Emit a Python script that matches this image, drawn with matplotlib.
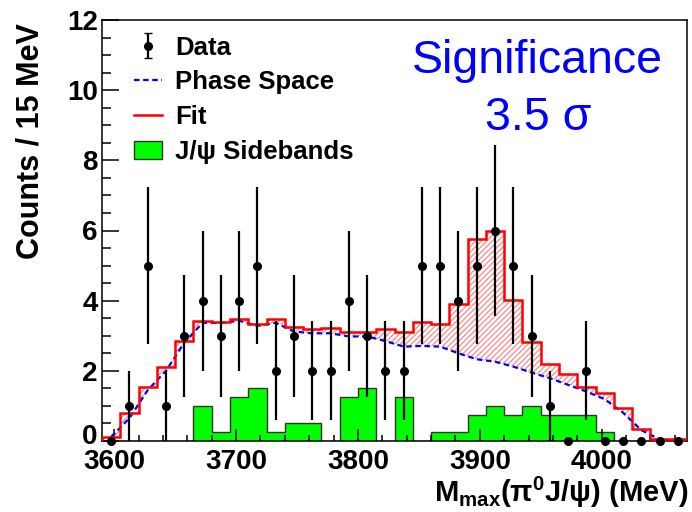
import numpy as np
import matplotlib
matplotlib.use("Agg")
import matplotlib.pyplot as plt
import matplotlib.transforms as mtransforms
from matplotlib.patches import Patch, Polygon
from matplotlib.lines import Line2D
from matplotlib.ticker import MultipleLocator

plt.rcParams['font.family'] = ['Liberation Sans', 'DejaVu Sans']
plt.rcParams['mathtext.fontset'] = 'custom'
plt.rcParams['mathtext.rm'] = 'Liberation Sans:bold'
plt.rcParams['mathtext.it'] = 'Liberation Sans:bold'
plt.rcParams['mathtext.bf'] = 'Liberation Sans:bold'
plt.rcParams['hatch.linewidth'] = 0.9

# ===== Binning: 32 bins of 15 MeV =====
X_LO, X_HI, BIN_W = 3590.0, 4070.0, 15.0
edges = np.arange(X_LO, X_HI + BIN_W / 2, BIN_W)
centers = 0.5 * (edges[:-1] + edges[1:])

# ===== Histogram contents =====
data_counts = [0, 1, 5, 1, 3, 4, 3, 4, 5, 2, 3, 2, 2, 4, 3, 2,
               2, 5, 5, 4, 5, 6, 5, 3, 1, 0, 2, 0, 0, 0, 0, 0]
fit_vals = [0.12, 0.79, 1.55, 2.12, 2.85, 3.42, 3.38, 3.47, 3.33, 3.48, 3.26,
            3.19, 3.23, 3.12, 3.12, 3.19, 3.12, 3.38, 3.34, 3.90, 5.75, 5.99,
            4.02, 2.81, 2.19, 1.91, 1.55, 1.38, 0.93, 0.33, 0.06, 0.06]
phsp_vals = [0.12, 0.65, 1.45, 2.00, 2.80, 3.37, 3.36, 3.43, 3.28, 3.37, 3.12,
             3.07, 3.07, 2.98, 2.98, 2.85, 2.69, 2.71, 2.69, 2.50, 2.33, 2.26,
             2.12, 1.95, 1.79, 1.60, 1.41, 1.19, 0.81, 0.31, 0.05, 0.0]
sideband_vals = [0, 0, 0, 0, 0, 1.0, 0.25, 1.25, 1.5, 0.25, 0.5, 0.5, 0, 1.25,
                 1.5, 0, 1.25, 0, 0.25, 0.25, 0.75, 1.0, 0.75, 1.0, 0.75, 0.75,
                 0.75, 0.25, 0, 0, 0, 0]

counts = np.array(data_counts, dtype=float)
fit = np.array(fit_vals)
phsp = np.array(phsp_vals)
sideband = np.array(sideband_vals)

fig = plt.figure(figsize=(6.92, 5.12), dpi=100)
ax = fig.add_axes([102 / 692, 1 - 441 / 512, 585 / 692, 421 / 512])

# J/psi sidebands (green)
ax.stairs(sideband, edges, fill=True, facecolor='#00ff00', edgecolor='none', zorder=1)
ax.stairs(sideband, edges, fill=False, color='#333333', linewidth=1.0, zorder=1.1)

# hatched region between phase space and fit
step_x = np.repeat(edges, 2)[1:-1]
step_y = np.repeat(fit, 2)
verts = list(zip(step_x, step_y)) + list(zip(centers[::-1], phsp[::-1]))
ax.add_patch(Polygon(verts, closed=True, facecolor='none', edgecolor='#ff8888',
                     linewidth=0, hatch='//////', zorder=1.5))

# phase space and fit
ax.plot(centers, phsp, color='#0000ff', linestyle=(0, (2.5, 1.6)), linewidth=1.6, zorder=2)
ax.stairs(fit, edges, color='#ff0000', linewidth=1.8, zorder=3)

# data with sqrt(N) errors
ax.errorbar(centers, counts, yerr=np.sqrt(counts), fmt='o', color='black',
            markersize=5.5, elinewidth=1.6, capsize=0, zorder=4, clip_on=False)

ax.set_xlim(X_LO, X_HI)
ax.set_ylim(0, 12)
ax.xaxis.set_major_locator(MultipleLocator(100))
ax.xaxis.set_minor_locator(MultipleLocator(20))
ax.yaxis.set_major_locator(MultipleLocator(2))
ax.yaxis.set_minor_locator(MultipleLocator(0.5))
ax.tick_params(axis='x', which='major', direction='in', length=9, width=1.1, pad=6)
ax.tick_params(axis='x', which='minor', direction='in', length=4.5, width=1.1)
ax.tick_params(axis='y', which='major', direction='in', length=12.5, width=1.1, pad=3)
ax.tick_params(axis='y', which='minor', direction='in', length=6.5, width=1.1)
for lab in ax.get_xticklabels() + ax.get_yticklabels():
    lab.set_fontsize(20)
    lab.set_fontweight('bold')
for sp in ax.spines.values():
    sp.set_linewidth(1.1)

ax.set_ylabel('Counts / 15 MeV', fontsize=22, fontweight='bold')
ax.yaxis.set_label_coords(-0.097, 0.713)
fig.text(688 / 692, 1 - 502 / 512, r'M$_{\mathrm{max}}$(π$^{0}$J/ψ) (MeV)',
         fontsize=21, fontweight='bold', ha='right', va='baseline')

# legend
h_data = ax.errorbar([np.nan], [np.nan], yerr=[np.nan], fmt='o', color='black',
                     markersize=5.5, elinewidth=1.6, capsize=3)
h_phsp = Line2D([], [], color='#0000ff', linestyle=(0, (2.5, 1.6)), linewidth=1.6)
h_fit = Line2D([], [], color='#ff0000', linewidth=1.8)
h_sb = Patch(facecolor='#00ff00', edgecolor='#333333', linewidth=1.0)
ax.legend([h_data, h_phsp, h_fit, h_sb],
          ['Data', 'Phase Space', 'Fit', 'J/ψ Sidebands'],
          loc='upper left', bbox_to_anchor=(0.055, 0.963), frameon=False,
          handlelength=1.1, handletextpad=0.5,
          labelspacing=0.42, borderpad=0, borderaxespad=0,
          prop={'size': 18.5, 'weight': 'bold'})

ax.text(0.745, 0.874, 'Significance', transform=ax.transAxes, color='#0000ff',
        fontsize=33.5, ha='center', va='baseline')
ax.text(0.745, 0.739, '3.5 σ', transform=ax.transAxes, color='#0000ff',
        fontsize=33.5, ha='center', va='baseline')

# lift the "0" label a little so it clears the x labels
fig.canvas.draw()
lift = mtransforms.ScaledTranslation(0, 7 / 100, fig.dpi_scale_trans)
for tick in ax.yaxis.get_major_ticks():
    if abs(tick.get_loc()) < 1e-9:
        tick.label1.set_transform(tick.label1.get_transform() + lift)

fig.savefig('out.png', dpi=100)
